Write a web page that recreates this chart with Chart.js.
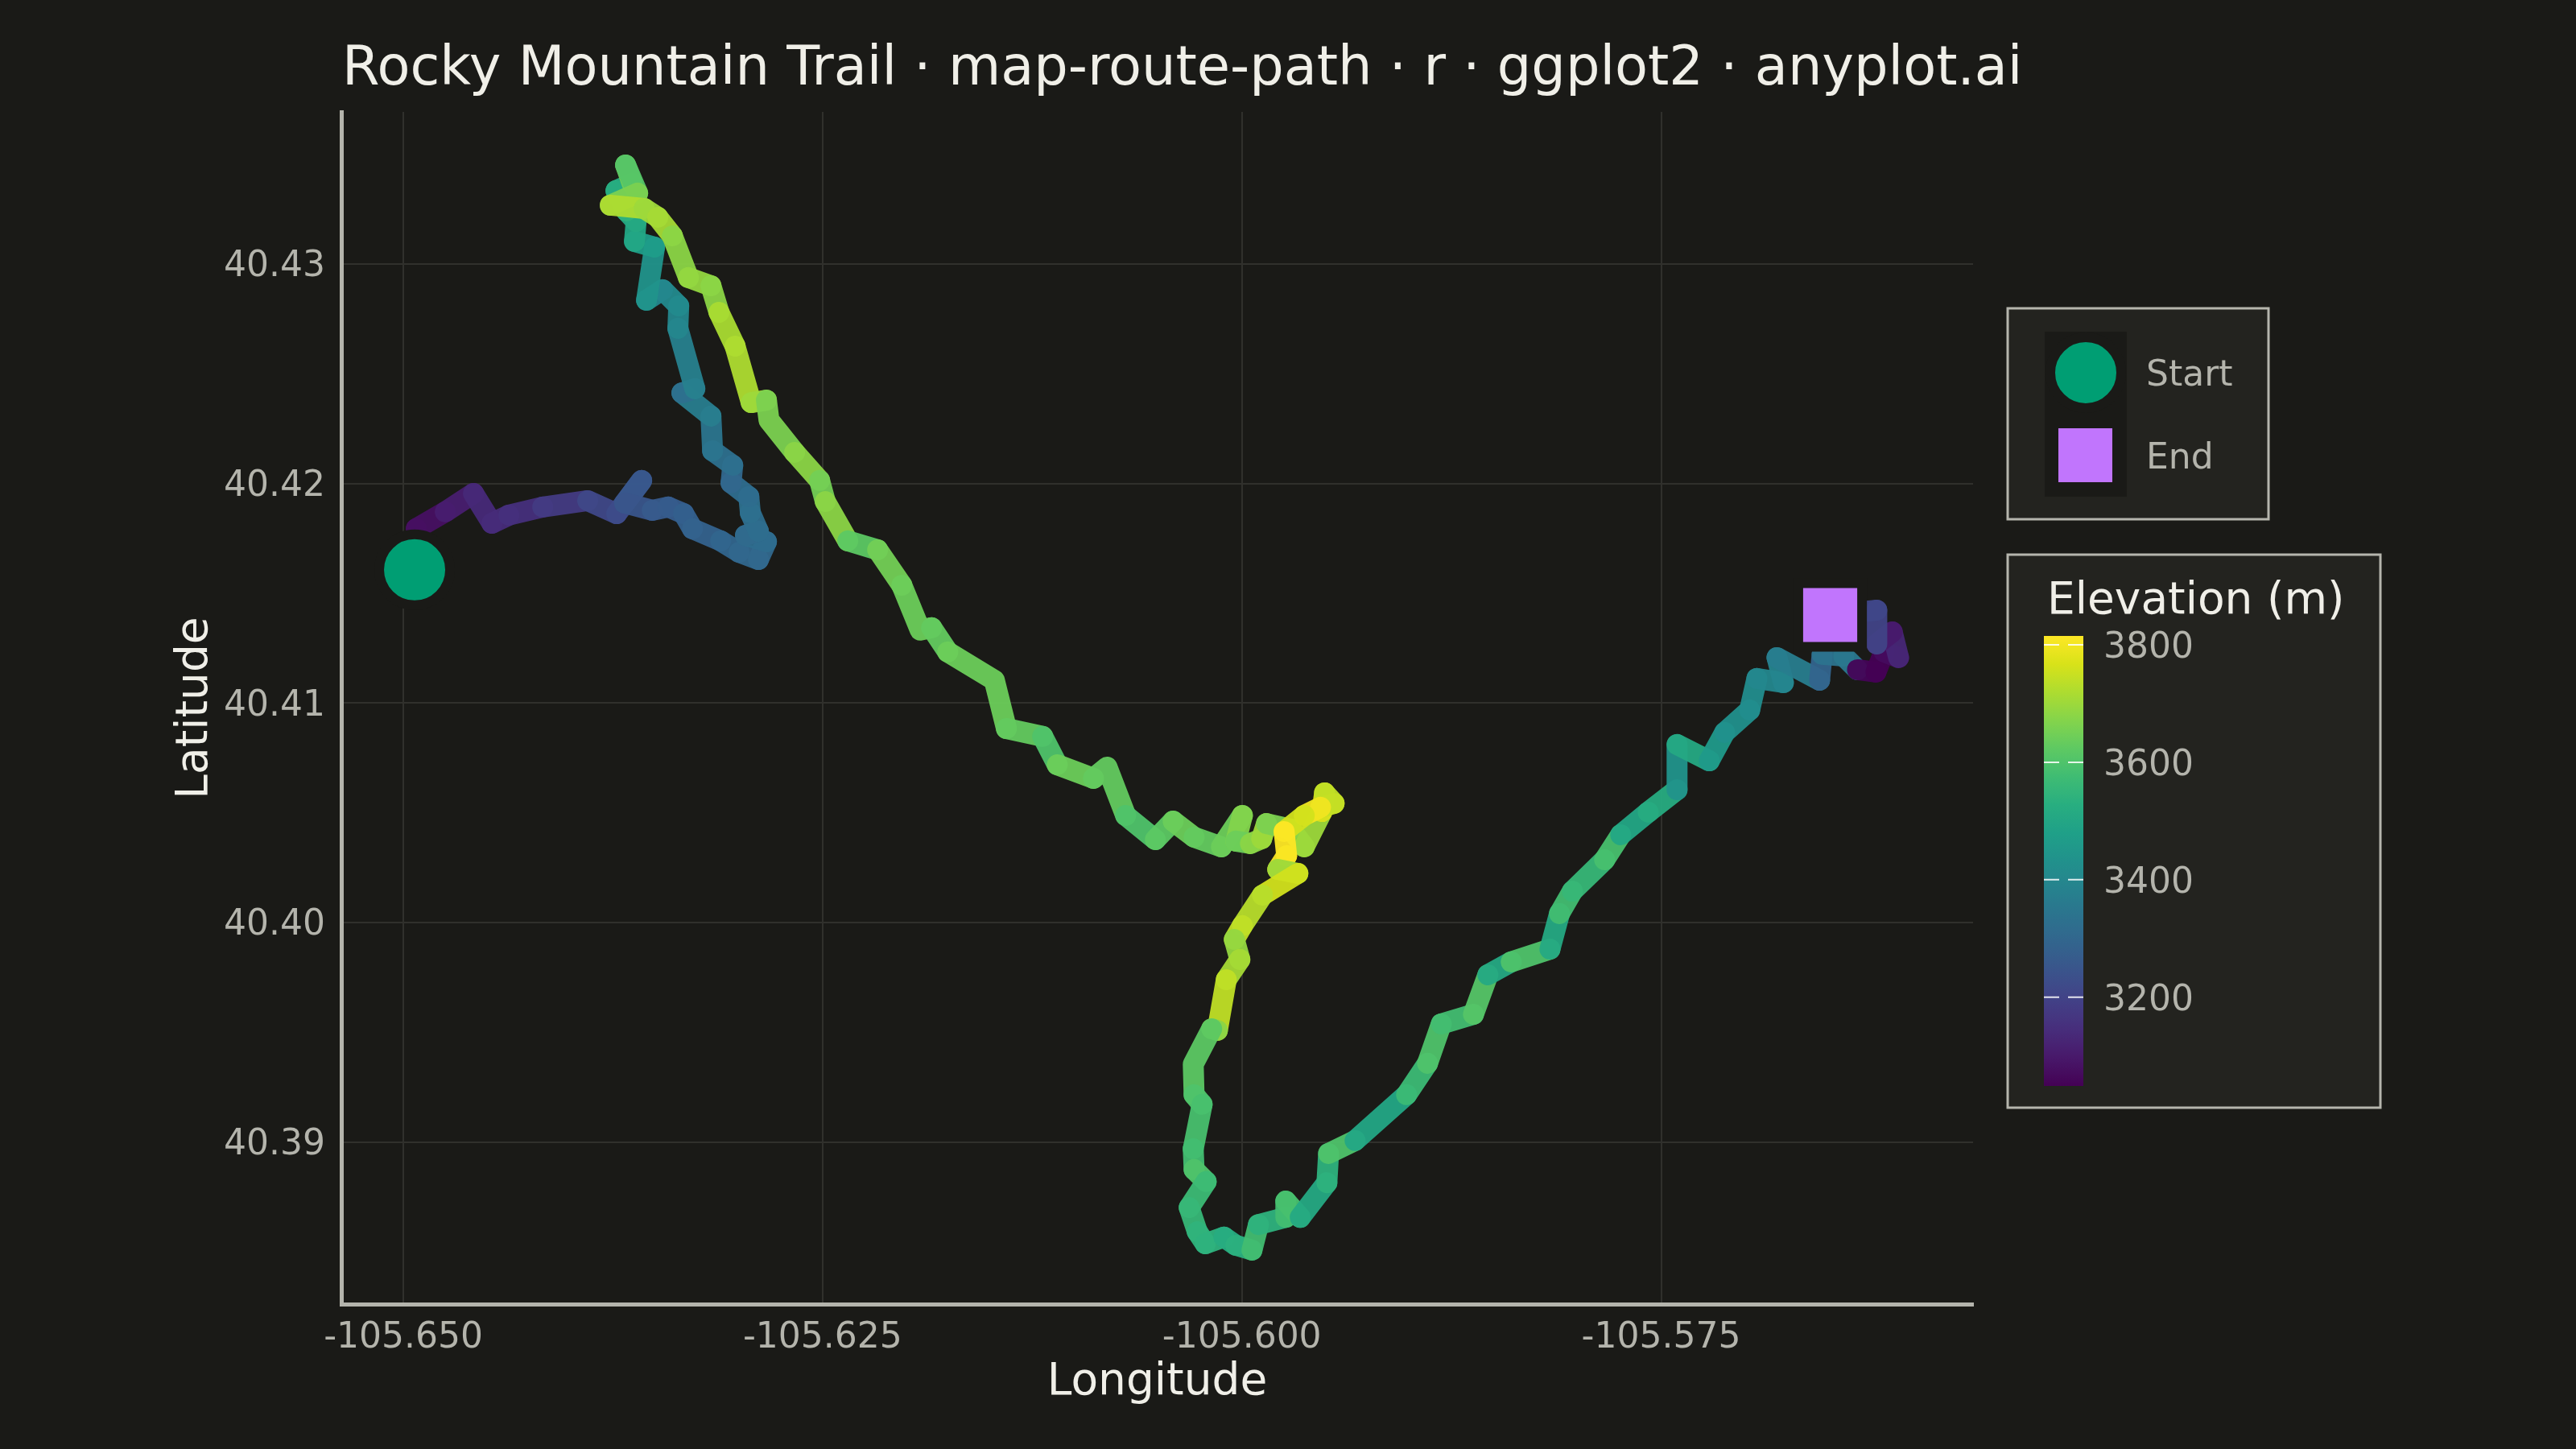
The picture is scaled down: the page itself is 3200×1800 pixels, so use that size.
<!DOCTYPE html>
<html><head><meta charset="utf-8">
<script src="https://cdn.jsdelivr.net/npm/chart.js@4.4.1/dist/chart.umd.min.js"></script>
<style>html,body{margin:0;padding:0;background:#1A1A17;}canvas{display:block;}</style>
</head><body>
<canvas id="c" width="3200" height="1800" style="width:3200px;height:1800px"></canvas>
<script>
// ---------------- data ----------------
const lon = [
-105.64933, -105.64923, -105.64750, -105.64582, -105.64472, -105.64371, -105.64169, -105.63901, -105.63728, -105.63579,
-105.63680, -105.63516, -105.63420, -105.63329, -105.63276, -105.63108, -105.62998, -105.62883, -105.62835, -105.62960,
-105.62883, -105.62931, -105.62940, -105.63046, -105.63036, -105.63156, -105.63166, -105.63339, -105.63262, -105.63363,
-105.63358, -105.63454, -105.63550, -105.63502, -105.63622, -105.63612, -105.63670, -105.63732, -105.63636, -105.63675,
-105.63603, -105.63766, -105.63564, -105.63483, -105.63396, -105.63300, -105.63166, -105.63118, -105.63022, -105.62926,
-105.62835, -105.62820, -105.62667, -105.62518, -105.62484, -105.62350, -105.62172, -105.62028, -105.61918, -105.61850,
-105.61754, -105.61476, -105.61404, -105.61188, -105.61101, -105.60885, -105.60804, -105.60693, -105.60516, -105.60410,
-105.60285, -105.60122, -105.59997, -105.60036, -105.59949, -105.59882, -105.59853, -105.59709, -105.59628, -105.59522,
-105.59507, -105.59450, -105.59531, -105.59628, -105.59748, -105.59733, -105.59786, -105.59666, -105.59877, -105.59997,
-105.60045, -105.60012, -105.60093, -105.60146, -105.60180, -105.60290, -105.60285, -105.60237, -105.60290, -105.60285,
-105.60213, -105.60314, -105.60266, -105.60218, -105.60107, -105.60036, -105.59940, -105.59901, -105.59738, -105.59738,
-105.59652, -105.59493, -105.59483, -105.59325, -105.59018, -105.58893, -105.58811, -105.58619, -105.58533, -105.58394,
-105.58163, -105.58106, -105.58029, -105.57837, -105.57741, -105.57577, -105.57405, -105.57405, -105.57213, -105.57121,
-105.56972, -105.56929, -105.56771, -105.56809, -105.56555, -105.56540, -105.56411, -105.56329, -105.56219, -105.56171,
-105.56084, -105.56122, -105.56214, -105.56214, -105.56492
];
const lat = [
40.41607, 40.41794, 40.41871, 40.41955, 40.41819, 40.41856, 40.41893, 40.41922, 40.41863, 40.42014,
40.41911, 40.41878, 40.41893, 40.41863, 40.41794, 40.41739, 40.41687, 40.41654, 40.41735, 40.41764,
40.41783, 40.41867, 40.41940, 40.42003, 40.42083, 40.42149, 40.42307, 40.42413, 40.42432, 40.42707,
40.42809, 40.42883, 40.42835, 40.43077, 40.43103, 40.43194, 40.43242, 40.43334, 40.43367, 40.43451,
40.43323, 40.43268, 40.43253, 40.43213, 40.43128, 40.42938, 40.42901, 40.42780, 40.42626, 40.42369,
40.42380, 40.42289, 40.42142, 40.42014, 40.41918, 40.41739, 40.41698, 40.41537, 40.41332, 40.41343,
40.41233, 40.41104, 40.40884, 40.40848, 40.40719, 40.40657, 40.40708, 40.40488, 40.40378, 40.40462,
40.40389, 40.40345, 40.40488, 40.40371, 40.40360, 40.40382, 40.40451, 40.40426, 40.40345, 40.40506,
40.40591, 40.40543, 40.40525, 40.40488, 40.40415, 40.40305, 40.40242, 40.40224, 40.40125, 40.39986,
40.39923, 40.39832, 40.39740, 40.39509, 40.39516, 40.39355, 40.39216, 40.39172, 40.38970, 40.38875,
40.38820, 40.38702, 40.38592, 40.38537, 40.38567, 40.38530, 40.38508, 40.38624, 40.38657, 40.38731,
40.38657, 40.38815, 40.38948, 40.39007, 40.39216, 40.39359, 40.39538, 40.39582, 40.39762, 40.39821,
40.39879, 40.40041, 40.40143, 40.40286, 40.40400, 40.40503, 40.40605, 40.40811, 40.40737, 40.40866,
40.40968, 40.41112, 40.41093, 40.41207, 40.41104, 40.41222, 40.41214, 40.41152, 40.41141, 40.41233,
40.41207, 40.41324, 40.41269, 40.41423, 40.41401
];
const elev = [
3065, 3080, 3110, 3135, 3140, 3150, 3180, 3215, 3225, 3260,
3250, 3265, 3270, 3280, 3285, 3295, 3300, 3305, 3320, 3310,
3325, 3330, 3320, 3300, 3330, 3345, 3370, 3330, 3380, 3400,
3410, 3400, 3440, 3470, 3500, 3510, 3540, 3520, 3650, 3610,
3660, 3720, 3700, 3710, 3680, 3690, 3680, 3715, 3720, 3700,
3660, 3660, 3680, 3650, 3680, 3620, 3650, 3640, 3640, 3630,
3640, 3640, 3630, 3600, 3640, 3630, 3630, 3600, 3620, 3640,
3630, 3640, 3670, 3640, 3680, 3700, 3660, 3680, 3700, 3770,
3740, 3745, 3800, 3760, 3815, 3810, 3700, 3760, 3730, 3740,
3690, 3710, 3740, 3680, 3620, 3620, 3600, 3590, 3580, 3600,
3570, 3560, 3545, 3540, 3520, 3535, 3580, 3540, 3580, 3590,
3510, 3540, 3600, 3500, 3570, 3600, 3580, 3610, 3510, 3600,
3510, 3580, 3560, 3590, 3500, 3520, 3440, 3510, 3460, 3430,
3420, 3400, 3395, 3370, 3290, 3340, 3350, 3055, 3049, 3070,
3130, 3100, 3200, 3210, 3200
];
const xTicks = [-105.650, -105.625, -105.600, -105.575];
const yTicks = [40.39, 40.40, 40.41, 40.42, 40.43];
const colorbarTicks = [3200, 3400, 3600, 3800];
const legendLabels = ['Start', 'End'];
const TITLE = 'Rocky Mountain Trail · map-route-path · r · ggplot2 · anyplot.ai';

// ---------------- styles ----------------
const BG = '#1A1A17', PANEL_BOX = '#23231F', BOX_EDGE = '#B5B5AD';
const TEXT = '#F0EFE8', TICK_TEXT = '#B4B4AC', GRID = '#30302C';
const START_COL = '#009E73', END_COL = '#C175FD';
const FONT = '"DejaVu Sans", "Liberation Sans", sans-serif';
const X_MIN = -105.6537, X_MAX = -105.5564, Y_MIN = 40.38262, Y_MAX = 40.43693;

const VIRIDIS = ['#440154','#48186a','#472d7b','#424086','#3b528b','#33638d','#2c728e','#26828e',
  '#21918c','#1fa088','#28ae80','#3fbc73','#5ec962','#84d44b','#addc30','#d8e219','#fde725'];
const VRGB = VIRIDIS.map(h => [parseInt(h.slice(1,3),16), parseInt(h.slice(3,5),16), parseInt(h.slice(5,7),16)]);
function viridis(t, a) {
  t = Math.max(0, Math.min(1, t));
  const p = t * (VRGB.length - 1), i = Math.min(Math.floor(p), VRGB.length - 2), f = p - i;
  const c = [0,1,2].map(k => Math.round(VRGB[i][k] + (VRGB[i+1][k] - VRGB[i][k]) * f));
  return `rgba(${c[0]},${c[1]},${c[2]},${a === undefined ? 1 : a})`;
}
const eMin = Math.min(...elev), eMax = Math.max(...elev);
const elevColor = (v, a) => viridis((v - eMin) / (eMax - eMin), a);

const route = lon.map((x, i) => ({x, y: lat[i]}));
const last = lon.length - 1;

const overlay = {
  id: 'overlay',
  beforeDraw(chart) {
    const c = chart.ctx; c.save(); c.fillStyle = BG; c.fillRect(0, 0, chart.width, chart.height); c.restore();
  },
  afterDraw(chart) {
    const c = chart.ctx, ca = chart.chartArea;
    c.save();
    c.fillStyle = TEXT; c.textAlign = 'left'; c.textBaseline = 'alphabetic';
    c.font = '67px ' + FONT;
    c.fillText(TITLE, 425, 105);
    c.font = '55px ' + FONT; c.textAlign = 'center';
    c.fillText('Longitude', (ca.left + ca.right) / 2, 1732);
    c.save(); c.translate(257, (ca.top + ca.bottom) / 2); c.rotate(-Math.PI / 2);
    c.fillText('Latitude', 0, 0); c.restore();

    // legend 1: Start / End
    c.fillStyle = PANEL_BOX; c.fillRect(2494, 383, 324, 262);
    c.strokeStyle = BOX_EDGE; c.lineWidth = 3; c.strokeRect(2494, 383, 324, 262);
    c.fillStyle = BG; c.fillRect(2540, 412, 102, 205);
    c.beginPath(); c.arc(2591, 463, 44, 0, Math.PI * 2);
    c.fillStyle = START_COL; c.fill(); c.lineWidth = 12; c.strokeStyle = BG; c.stroke();
    c.fillStyle = END_COL; c.fillRect(2557, 532, 67, 67);
    c.fillStyle = TICK_TEXT; c.font = '44px ' + FONT; c.textAlign = 'left'; c.textBaseline = 'middle';
    c.fillText(legendLabels[0], 2666, 468);
    c.fillText(legendLabels[1], 2666, 571);

    // legend 2: colourbar
    c.fillStyle = PANEL_BOX; c.fillRect(2494, 689, 463, 687);
    c.strokeStyle = BOX_EDGE; c.lineWidth = 3; c.strokeRect(2494, 689, 463, 687);
    c.fillStyle = TEXT; c.font = '55px ' + FONT; c.textBaseline = 'middle';
    c.fillText('Elevation (m)', 2543, 748);
    const bx = 2539, bw = 49, by0 = 790, by1 = 1349;
    const g = c.createLinearGradient(0, by1, 0, by0);
    for (let k = 0; k <= 32; k++) g.addColorStop(k / 32, viridis(k / 32));
    c.fillStyle = g; c.fillRect(bx, by0, bw, by1 - by0);
    c.font = '44px ' + FONT; c.fillStyle = TICK_TEXT;
    colorbarTicks.forEach(v => {
      const y = by1 - (v - eMin) / (eMax - eMin) * (by1 - by0);
      c.strokeStyle = 'rgba(255,255,255,0.85)'; c.lineWidth = 2;
      c.beginPath(); c.moveTo(bx, y); c.lineTo(bx + 19, y); c.moveTo(bx + bw - 19, y); c.lineTo(bx + bw, y); c.stroke();
      c.fillText(String(v), 2613, y + 5);
    });
    c.restore();
  }
};

new Chart(document.getElementById('c'), {
  type: 'scatter',
  data: {
    datasets: [
      { label: 'Start', data: [route[0]], order: 0, pointStyle: 'circle', pointRadius: 44, pointHoverRadius: 44,
        pointBackgroundColor: START_COL, pointBorderColor: BG, pointBorderWidth: 12, pointHoverBorderWidth: 12 },
      { label: 'End', data: [route[last]], order: 0, pointStyle: 'rect', pointRadius: 56, pointHoverRadius: 56,
        pointBackgroundColor: END_COL, pointBorderColor: BG, pointBorderWidth: 12, pointHoverBorderWidth: 12 },
      { label: 'Route', data: route, order: 1, showLine: true, pointRadius: 0, pointHoverRadius: 0,
        borderWidth: 26, borderCapStyle: 'round', borderJoinStyle: 'round', borderColor: elevColor(elev[0], 0.95),
        segment: { borderColor: s => elevColor(elev[s.p0DataIndex], 0.95) } }
    ]
  },
  options: {
    responsive: false, animation: false, devicePixelRatio: 1, events: [],
    layout: { padding: { left: 0, top: 139, right: 749, bottom: 0 } },
    plugins: { legend: { display: false }, tooltip: { enabled: false }, title: { display: false } },
    scales: {
      x: {
        type: 'linear', min: X_MIN, max: X_MAX,
        afterFit: s => { s.height = 180; },
        afterBuildTicks: s => { s.ticks = xTicks.map(v => ({value: v})); },
        grid: { color: GRID, lineWidth: 2, drawTicks: false },
        border: { display: true, color: TICK_TEXT, width: 5 },
        ticks: { color: TICK_TEXT, font: { family: FONT, size: 44 }, padding: 16, maxRotation: 0,
                 callback: v => Number(v).toFixed(3) }
      },
      y: {
        type: 'linear', min: Y_MIN, max: Y_MAX,
        afterFit: s => { s.width = 424; },
        afterBuildTicks: s => { s.ticks = yTicks.map(v => ({value: v})); },
        grid: { color: GRID, lineWidth: 2, drawTicks: false },
        border: { display: true, color: TICK_TEXT, width: 5 },
        ticks: { color: TICK_TEXT, font: { family: FONT, size: 44 }, padding: 20, labelOffset: 4,
                 callback: v => Number(v).toFixed(2) }
      }
    }
  },
  plugins: [overlay]
});
</script>
</body></html>
